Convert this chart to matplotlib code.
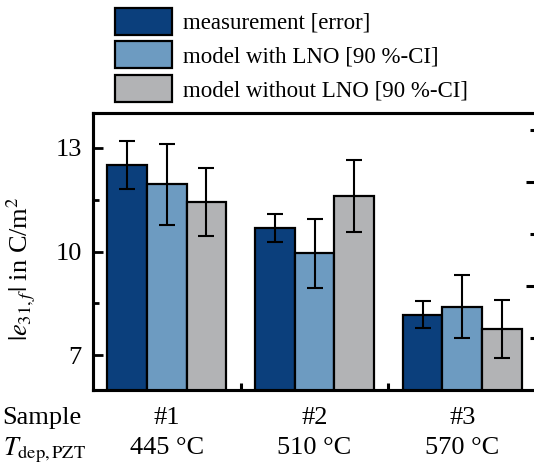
import matplotlib
matplotlib.use("Agg")
import matplotlib.pyplot as plt
import numpy as np
from matplotlib.ticker import FixedLocator

plt.rcParams['font.family'] = ['Liberation Serif', 'DejaVu Serif']
plt.rcParams['mathtext.fontset'] = 'stix'

samples = ['#1', '#2', '#3']
temps = ['445 °C', '510 °C', '570 °C']
series = ['measurement [error]', 'model with LNO [90 %-CI]', 'model without LNO [90 %-CI]']
colors = ['#0B3F7C', '#6D9BC1', '#B2B3B5']

measured = [12.50, 10.67, 8.18]
measured_err = [0.70, 0.40, 0.40]
with_lno = [11.95, 9.95, 8.41]
with_lno_err = [1.17, 1.00, 0.91]
without_lno = [11.43, 11.59, 7.76]
without_lno_err = [0.97, 1.04, 0.85]

values = [measured, with_lno, without_lno]
errors = [measured_err, with_lno_err, without_lno_err]

fig = plt.figure(figsize=(5.34, 4.75), dpi=100)
ax = fig.add_axes([0.174, 0.179, 0.830, 0.583])

x = np.arange(len(samples))
w = 0.268
for i in range(3):
    ax.bar(x + (i - 1) * w, values[i], w, yerr=errors[i], color=colors[i],
           edgecolor='black', linewidth=1.6, label=series[i],
           error_kw=dict(ecolor='black', elinewidth=1.5, capsize=5.8, capthick=1.5))

ax.set_xlim(-0.5, 2.5)
ax.set_ylim(6, 14)
ax.set_yticks([7, 10, 13])
ax.yaxis.set_minor_locator(FixedLocator([8.5, 11.5]))
ax.set_xticks([0.5, 1.5])
ax.set_xticklabels([])
ax.tick_params(axis='y', which='major', direction='in', length=7, width=2, labelsize=19, pad=8)
ax.tick_params(axis='y', which='minor', direction='in', length=4.3, width=2)
ax.tick_params(axis='x', direction='in', length=5, width=2.2)
for s in ax.spines.values():
    s.set_linewidth(2.2)

ax.set_ylabel(r'$|e_{31,f}|$ in C/m$^2$', fontsize=19)
ax.yaxis.set_label_coords(-0.125, 0.437)

# right-hand ticks
ax2 = ax.twinx()
ax2.set_ylim(6, 14)
ax2.set_yticks([9, 12])
ax2.yaxis.set_minor_locator(FixedLocator([7.5, 10.5, 13.5]))
ax2.set_yticklabels([])
ax2.tick_params(axis='y', which='major', direction='in', length=7, width=2.2)
ax2.tick_params(axis='y', which='minor', direction='in', length=4, width=2.2)
for s in ax2.spines.values():
    s.set_linewidth(2.2)

# sample and temperature rows under the axes
trans = ax.get_xaxis_transform()
for xi, s, t in zip(x, samples, temps):
    ax.text(xi, -0.1, s, transform=trans, ha='center', va='center', fontsize=19)
    ax.text(xi, -0.21, t, transform=trans, ha='center', va='center', fontsize=19)
fig.text(0.005, 0.12, 'Sample', ha='left', va='center', fontsize=19)
fig.text(0.005, 0.052, r'$T_{\mathrm{dep,PZT}}$', ha='left', va='center', fontsize=19)

ax.legend(loc='upper left', bbox_to_anchor=(110 / 534, 1 - 3 / 475), bbox_transform=fig.transFigure,
          frameon=False, fontsize=16.5, handlelength=2.5, handleheight=1.45,
          handletextpad=0.5, labelspacing=0.28, borderpad=0.2, borderaxespad=0)

fig.savefig('out.png', dpi=100)
